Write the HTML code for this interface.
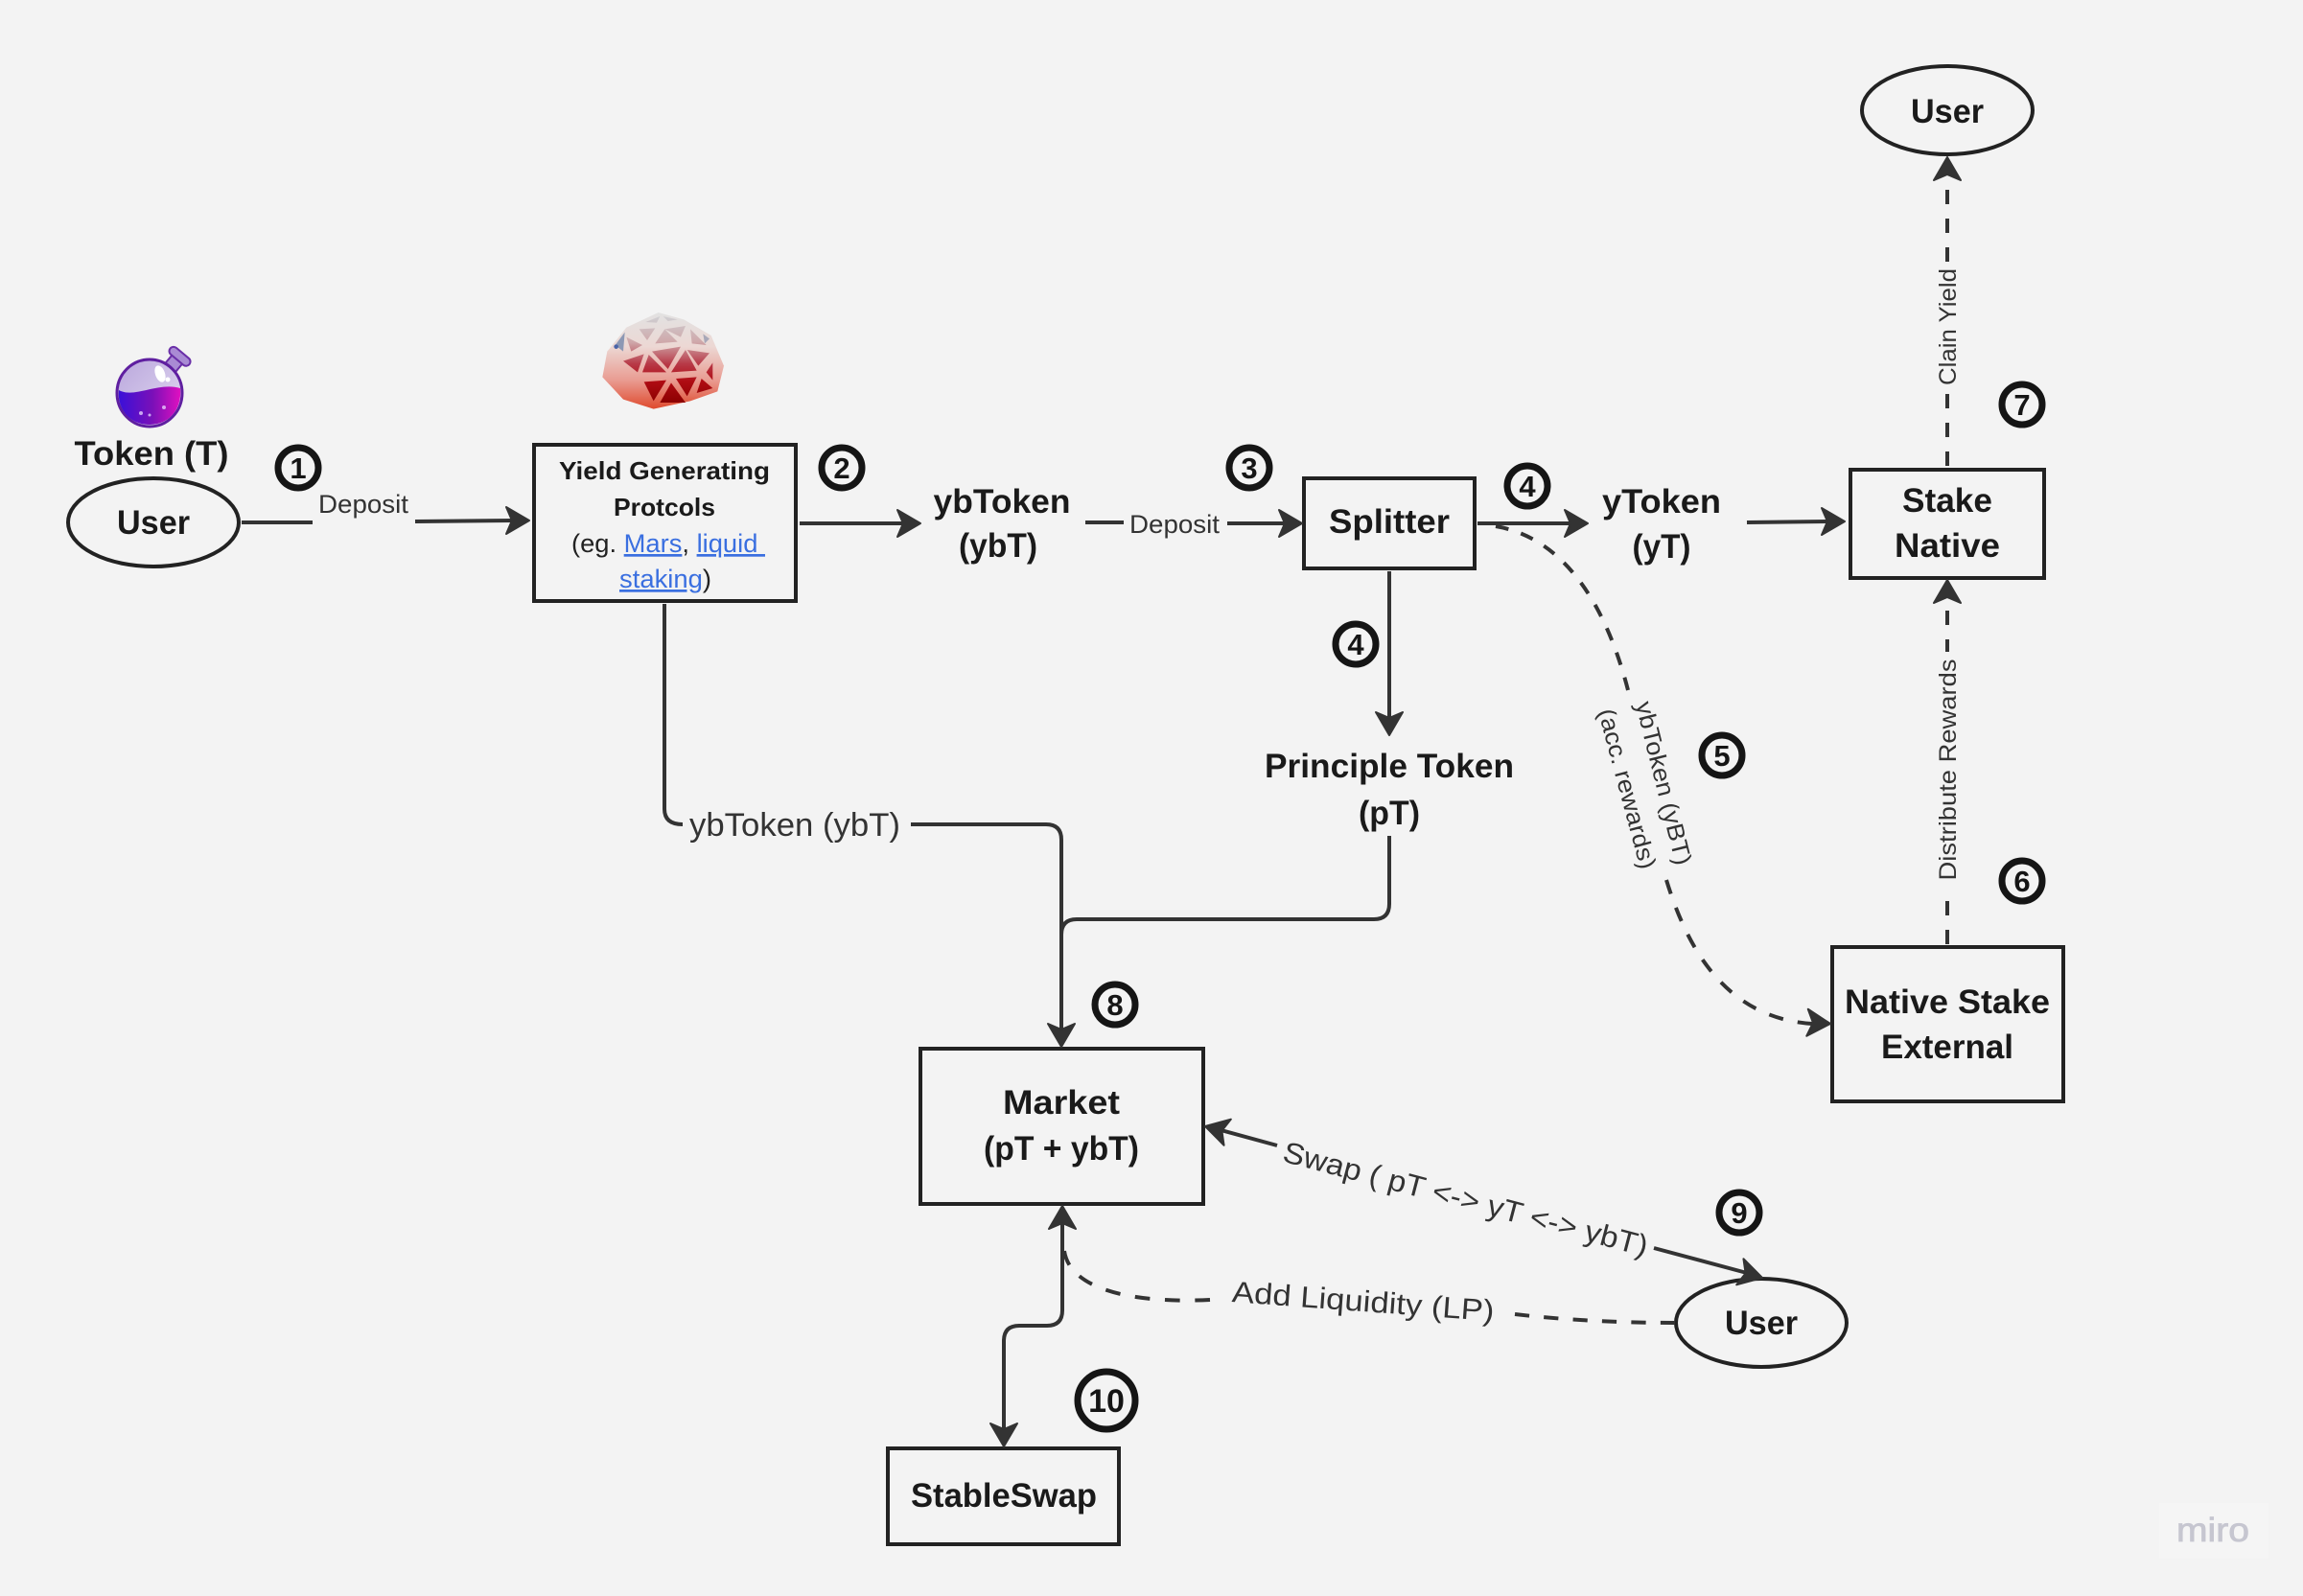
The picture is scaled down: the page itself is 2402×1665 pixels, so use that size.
<!DOCTYPE html>
<html><head><meta charset="utf-8"><title>Diagram</title>
<style>html,body{margin:0;padding:0;background:#f3f3f3}svg{display:block}
text{font-family:"Liberation Sans",sans-serif;text-anchor:middle}
.b{font-weight:700;fill:#1a1a1a;font-size:35px}
.r{fill:#333;font-size:27px}
.s{fill:none;stroke:#333;stroke-width:4}
.d{fill:none;stroke:#333;stroke-width:4;stroke-dasharray:15 15}
.box{fill:none;stroke:#222;stroke-width:4}
.c{fill:none;stroke:#151515;stroke-width:7}
.n{font-weight:700;fill:#151515;font-size:31px}
.h{fill:#333;stroke:#333;stroke-width:2;stroke-linejoin:round}
.a{fill:#3a6fe0;text-decoration:underline}
</style></head><body>
<svg xmlns="http://www.w3.org/2000/svg" width="2402" height="1665" viewBox="0 0 2402 1665">
<defs>
<path id="ah" d="M0,0 L-24,-14 L-18,0 L-24,14 Z"/>
<linearGradient id="liq" x1="0" x2="1" y1="0" y2="0"><stop offset="0" stop-color="#3a10d8"/><stop offset=".55" stop-color="#7a10b8"/><stop offset="1" stop-color="#e010c0"/></linearGradient>
<linearGradient id="gl" x1="0" x2="1" y1="0" y2="1"><stop offset="0" stop-color="#b9a6dc"/><stop offset="1" stop-color="#e4dcf2"/></linearGradient>
<linearGradient id="dome" gradientUnits="userSpaceOnUse" x1="0" x2="0" y1="48" y2="350"><stop offset="0" stop-color="#e2e2e2"/><stop offset=".35" stop-color="#ecd8d4"/><stop offset=".7" stop-color="#e99c92"/><stop offset="1" stop-color="#df4a2e"/></linearGradient>
<linearGradient id="tri" gradientUnits="userSpaceOnUse" x1="0" x2="0" y1="60" y2="330"><stop offset="0" stop-color="#cfcfd2"/><stop offset=".3" stop-color="#cfa8aa"/><stop offset=".55" stop-color="#b83a48"/><stop offset=".75" stop-color="#b00c14"/><stop offset="1" stop-color="#8c0000"/></linearGradient>
</defs>
<rect width="2402" height="1665" fill="#f3f3f3"/>

<!-- potion -->
<g>
<g transform="rotate(40 184 376)"><rect x="177" y="374" width="14" height="12" fill="#a98bd4" stroke="#6a2fa8" stroke-width="2"/><rect x="171" y="366" width="26" height="9" rx="4.5" fill="#a98bd4" stroke="#6a2fa8" stroke-width="2"/></g>
<ellipse cx="156" cy="410" rx="34" ry="35" fill="url(#gl)" stroke="#5f1fa0" stroke-width="3"/>
<path d="M124,407 C140,416 165,398 188,405 C190,425 178,443 156,443 C134,443 122,425 124,407Z" fill="url(#liq)"/>
<ellipse cx="167" cy="390" rx="5" ry="9" fill="#fff" transform="rotate(-20 167 390)"/>
<circle cx="175" cy="396" r="2.5" fill="#fff"/>
<circle cx="147" cy="431" r="2" fill="#c9a6f0"/><circle cx="156" cy="433" r="1.5" fill="#c9a6f0"/><circle cx="171" cy="425" r="2" fill="#d9a6f0"/>
</g>

<!-- dome -->
<g transform="translate(600,310) scale(.3333)">
<path d="M260,48 L340,70 L425,120 L465,215 L445,295 L360,325 L245,350 L150,320 L85,250 L100,170 L160,95 Z" fill="url(#dome)"/>
<g fill="url(#tri)">
<path d="M220,78 L265,60 L255,80Z"/><path d="M275,60 L320,70 L290,75Z"/>
<path d="M200,100 L250,97 L225,135Z"/><path d="M280,100 L345,90 L330,125Z"/><path d="M250,145 L280,100 L320,140Z"/>
<path d="M365,145 L360,100 L410,150Z"/><path d="M175,170 L160,125 L210,150Z"/>
<path d="M150,200 L215,178 L195,235Z"/><path d="M210,235 L230,180 L285,235Z"/><path d="M240,170 L330,155 L290,225Z"/><path d="M300,235 L345,165 L380,230Z"/><path d="M350,165 L420,175 L385,215Z"/>
<path d="M410,235 L430,205 L430,260Z"/>
<path d="M215,265 L285,260 L245,325Z"/><path d="M265,330 L300,268 L345,330Z"/><path d="M315,255 L380,250 L350,310Z"/><path d="M380,300 L395,255 L430,285Z"/>
</g>
<path d="M125,150 L155,110 L150,170Z" fill="#8c98b4"/><path d="M400,115 L420,130 L405,145Z" fill="#a8a8b8"/>
<circle cx="128" cy="155" r="7" fill="#4a64a8"/>
</g>

<!-- nodes -->
<ellipse class="box" cx="160" cy="545" rx="89" ry="46"/>
<ellipse class="box" cx="2031" cy="115" rx="89" ry="46"/>
<ellipse class="box" cx="1837" cy="1380" rx="89" ry="46"/>
<rect class="box" x="557" y="464" width="273" height="163"/>
<rect class="box" x="1360" y="499" width="178" height="94"/>
<rect class="box" x="1930" y="490" width="202" height="113"/>
<rect class="box" x="1911" y="988" width="241" height="161"/>
<rect class="box" x="960" y="1094" width="295" height="162"/>
<rect class="box" x="926" y="1511" width="241" height="100"/>

<!-- connectors -->
<path class="s" d="M252,545 H326 M433,544 L535,543"/><use href="#ah" class="h" transform="translate(552,543)"/>
<path class="s" d="M834,546 H945"/><use href="#ah" class="h" transform="translate(960,546)"/>
<path class="s" d="M1132,545 H1172 M1280,546 H1342"/><use href="#ah" class="h" transform="translate(1358,546)"/>
<path class="s" d="M1541,546 H1640"/><use href="#ah" class="h" transform="translate(1656,546)"/>
<path class="s" d="M1822,545 L1908,544"/><use href="#ah" class="h" transform="translate(1924,544)"/>
<path class="s" d="M1449,596 V752"/><use href="#ah" class="h" transform="translate(1449,767) rotate(90)"/>
<path class="s" d="M693,630 V844 Q693,860 712,860 M950,860 H1091 Q1107,860 1107,876 V1076"/><use href="#ah" class="h" transform="translate(1107,1092) rotate(90)"/>
<path class="s" d="M1449,872 V943 Q1449,959 1433,959 H1123 Q1107,959 1107,975"/>
<path class="s" d="M1108,1272 V1367 Q1108,1383 1092,1383 H1063 Q1047,1383 1047,1399 V1494"/>
<use href="#ah" class="h" transform="translate(1108,1258) rotate(-90)"/><use href="#ah" class="h" transform="translate(1047,1509) rotate(90)"/>
<path class="d" d="M2031,198 V273"/><path class="d" d="M2031,411 V487"/><use href="#ah" class="h" transform="translate(2031,164) rotate(-90)"/>
<path class="d" d="M2031,637 V680"/><path class="d" d="M2031,940 V985"/><use href="#ah" class="h" transform="translate(2031,605) rotate(-90)"/>
<path class="d" pathLength="255" d="M1560,549 C1625,560 1672,620 1698,720"/>
<path class="d" pathLength="225" d="M1738,918 C1760,990 1800,1062 1890,1068"/>
<use href="#ah" class="h" transform="translate(1909,1068) rotate(3)"/>
<path class="s" d="M1332,1195 L1270,1178"/><use href="#ah" class="h" transform="translate(1257,1175) rotate(-165)"/>
<path class="s" d="M1725,1302 L1822,1328"/><use href="#ah" class="h" transform="translate(1838,1333) rotate(15)"/>
<path class="d" pathLength="165" d="M1747,1380 C1690,1380 1630,1377 1580,1371"/>
<path class="d" pathLength="165" d="M1262,1356 C1180,1360 1116,1345 1110,1305"/>

<!-- numbered circles -->
<circle class="c" cx="311" cy="488" r="21"/><text class="n" x="311" y="499">1</text>
<circle class="c" cx="878" cy="488" r="21"/><text class="n" x="878" y="499">2</text>
<circle class="c" cx="1303" cy="488" r="21"/><text class="n" x="1303" y="499">3</text>
<circle class="c" cx="1593" cy="507" r="21"/><text class="n" x="1593" y="518">4</text>
<circle class="c" cx="1414" cy="672" r="21"/><text class="n" x="1414" y="683">4</text>
<circle class="c" cx="1796" cy="788" r="21"/><text class="n" x="1796" y="799">5</text>
<circle class="c" cx="2109" cy="919" r="21"/><text class="n" x="2109" y="930">6</text>
<circle class="c" cx="2109" cy="422" r="21"/><text class="n" x="2109" y="433">7</text>
<circle class="c" cx="1163" cy="1048" r="21"/><text class="n" x="1163" y="1059">8</text>
<circle class="c" cx="1814" cy="1265" r="21"/><text class="n" x="1814" y="1276">9</text>
<circle class="c" cx="1154" cy="1461" r="30"/><text class="n" x="1154" y="1473" style="font-size:34px">10</text>

<!-- bold labels -->
<text class="b" x="158" y="485" textLength="161" lengthAdjust="spacingAndGlyphs">Token (T)</text>
<text class="b" x="160" y="557" textLength="76" lengthAdjust="spacingAndGlyphs">User</text>
<text class="b" x="2031" y="128" textLength="76" lengthAdjust="spacingAndGlyphs">User</text>
<text class="b" x="1837" y="1392" textLength="76" lengthAdjust="spacingAndGlyphs">User</text>
<text class="b" x="1045" y="535" textLength="143" lengthAdjust="spacingAndGlyphs">ybToken</text>
<text class="b" x="1041" y="581" textLength="82" lengthAdjust="spacingAndGlyphs">(ybT)</text>
<text class="b" x="1449" y="556" textLength="126" lengthAdjust="spacingAndGlyphs">Splitter</text>
<text class="b" x="1733" y="535" textLength="124" lengthAdjust="spacingAndGlyphs">yToken</text>
<text class="b" x="1733" y="582" textLength="61" lengthAdjust="spacingAndGlyphs">(yT)</text>
<text class="b" x="2031" y="534" textLength="94" lengthAdjust="spacingAndGlyphs">Stake</text>
<text class="b" x="2031" y="581" textLength="110" lengthAdjust="spacingAndGlyphs">Native</text>
<text class="b" x="2031" y="1057" textLength="214" lengthAdjust="spacingAndGlyphs">Native Stake</text>
<text class="b" x="2031" y="1104" textLength="138" lengthAdjust="spacingAndGlyphs">External</text>
<text class="b" x="1449" y="811" textLength="260" lengthAdjust="spacingAndGlyphs">Principle Token</text>
<text class="b" x="1449" y="860" textLength="64" lengthAdjust="spacingAndGlyphs">(pT)</text>
<text class="b" x="1107" y="1162" textLength="122" lengthAdjust="spacingAndGlyphs">Market</text>
<text class="b" x="1107" y="1210" textLength="162" lengthAdjust="spacingAndGlyphs">(pT + ybT)</text>
<text class="b" x="1047" y="1572" textLength="194" lengthAdjust="spacingAndGlyphs">StableSwap</text>

<!-- yield box -->
<text class="b" style="font-size:26px" x="693" y="500" textLength="220" lengthAdjust="spacingAndGlyphs">Yield Generating</text>
<text class="b" style="font-size:26px" x="693" y="538" textLength="106" lengthAdjust="spacingAndGlyphs">Protcols</text>
<text style="font-size:27px;fill:#222" x="697" y="576" textLength="202" lengthAdjust="spacingAndGlyphs">(eg. <tspan class="a">Mars</tspan>, <tspan class="a">liquid&#160;</tspan></text>
<text style="font-size:27px;fill:#222" x="694" y="613" textLength="96" lengthAdjust="spacingAndGlyphs"><tspan class="a">staking</tspan>)</text>

<!-- regular labels -->
<text class="r" x="379" y="535" textLength="94" lengthAdjust="spacingAndGlyphs">Deposit</text>
<text class="r" x="1225" y="556" textLength="94" lengthAdjust="spacingAndGlyphs">Deposit</text>
<text class="r" style="font-size:34px" x="829" y="872" textLength="220" lengthAdjust="spacingAndGlyphs">ybToken (ybT)</text>
<text class="r" style="font-size:25px" transform="translate(2040,341) rotate(-90)" textLength="122" lengthAdjust="spacingAndGlyphs">Clain Yield</text>
<text class="r" style="font-size:25px" transform="translate(2040,803) rotate(-90)" textLength="231" lengthAdjust="spacingAndGlyphs">Distribute Rewards</text>
<text class="r" style="font-size:25px" transform="translate(1727,819) rotate(76)" textLength="175" lengthAdjust="spacingAndGlyphs">ybToken (yBT)</text>
<text class="r" style="font-size:25px" transform="translate(1689,825) rotate(75)" textLength="172" lengthAdjust="spacingAndGlyphs">(acc. rewards)</text>
<text class="r" style="font-size:31px" transform="translate(1526,1261) rotate(14.7)" textLength="392" lengthAdjust="spacingAndGlyphs">Swap ( pT &lt;-&gt; yT &lt;-&gt; ybT)</text>
<text class="r" style="font-size:31px" transform="translate(1421,1368) rotate(4.2)" textLength="274" lengthAdjust="spacingAndGlyphs">Add Liquidity (LP)</text>

<!-- watermark -->
<rect x="2252" y="1568" width="114" height="58" fill="#f5f5f5"/>
<text x="2308" y="1608" style="font-size:35px;fill:#c6c6d0;stroke:#c6c6d0;stroke-width:.8" textLength="76" lengthAdjust="spacingAndGlyphs">miro</text>
</svg>
</body></html>
